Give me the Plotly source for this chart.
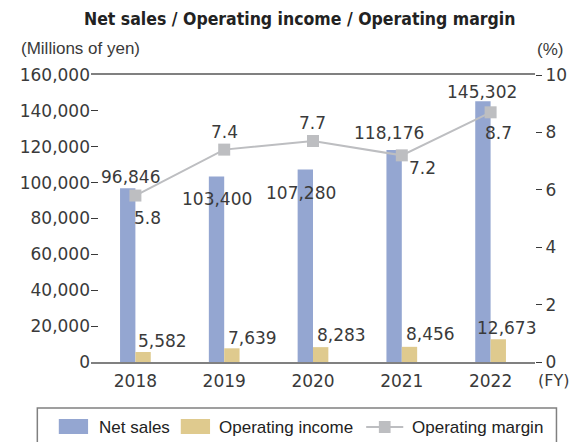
import plotly.graph_objects as go

# ---- data ----
years = ["2018", "2019", "2020", "2021", "2022"]
net_sales = [96846, 103400, 107280, 118176, 145302]
operating_income = [5582, 7639, 8283, 8456, 12673]
operating_margin = [5.8, 7.4, 7.7, 7.2, 8.7]
left_ticks = [0, 20000, 40000, 60000, 80000, 100000, 120000, 140000, 160000]
right_ticks = [0, 2, 4, 6, 8, 10]

# ---- layout geometry (pixels) ----
W, H = 579, 442
L, R, T, B = 91, 546, 75, 362

def xp(px):
    return (px - L) / (R - L)

def yp(py):
    return (B - py) / (B - T)

C_NS = "#94A6D1"
C_OI = "#DFCA8E"
C_OM = "#BDBEC1"
AX = "#808080"
TXT = "#3a3a3a"
NUMFONT = "DejaVu Sans"
SANS = "Liberation Sans, Arial, sans-serif"

fig = go.Figure()
fig.add_trace(go.Bar(x=years, y=net_sales, name="Net sales", marker_color=C_NS,
                     marker_line_width=0, offsetgroup="a"))
fig.add_trace(go.Bar(x=years, y=operating_income, name="Operating income", marker_color=C_OI,
                     marker_line_width=0, offsetgroup="b"))
fig.add_trace(go.Scatter(x=years, y=operating_margin, name="Operating margin", yaxis="y2",
                         mode="lines+markers", line=dict(color=C_OM, width=2),
                         marker=dict(symbol="square", size=12, color=C_OM)))

# label offsets (styling)
ns_shift = [(-5, 11), (-7.5, -22), (-12, -23.5), (-12.5, 17), (-8.5, 9)]
oi_shift = [(27.5, 10.5), (28.5, 10), (28, 12), (28.5, 13), (16, 11)]
om_shift = [(12, -22.5), (0, 17.5), (-1, 18), (20.5, -12.5), (7.5, -21)]

ann = []
lab_font = dict(family=NUMFONT, size=17, color=TXT)
for i, yr in enumerate(years):
    ann.append(dict(x=i, y=net_sales[i], xref="x", yref="y", text=f"{net_sales[i]:,}",
                    showarrow=False, xshift=ns_shift[i][0], yshift=ns_shift[i][1],
                    font=lab_font, xanchor="center", yanchor="middle"))
    ann.append(dict(x=i, y=operating_income[i], xref="x", yref="y", text=f"{operating_income[i]:,}",
                    showarrow=False, xshift=oi_shift[i][0], yshift=oi_shift[i][1],
                    font=lab_font, xanchor="center", yanchor="middle"))
    ann.append(dict(x=i, y=operating_margin[i], xref="x", yref="y2", text=f"{operating_margin[i]:.1f}",
                    showarrow=False, xshift=om_shift[i][0], yshift=om_shift[i][1],
                    font=lab_font, xanchor="center", yanchor="middle"))

# titles / units
ann.append(dict(x=xp(305), y=yp(19), xref="paper", yref="paper",
                text="<b>Net sales / Operating income / Operating margin</b>", showarrow=False,
                font=dict(family="DejaVu Sans Condensed, Liberation Sans Narrow, sans-serif", size=17.5,
                          color="#222222"),
                xanchor="center", yanchor="middle"))
ann.append(dict(x=xp(17), y=yp(48), xref="paper", yref="paper", text="(Millions of yen)",
                showarrow=False, font=dict(family=SANS, size=17, color=TXT),
                xanchor="left", yanchor="middle"))
ann.append(dict(x=xp(577), y=yp(49), xref="paper", yref="paper", text="(%)",
                showarrow=False, font=dict(family=SANS, size=17, color=TXT),
                xanchor="right", yanchor="middle"))
ann.append(dict(x=xp(547), y=yp(380), xref="paper", yref="paper", text="(FY)",
                showarrow=False, font=dict(family=NUMFONT, size=16, color=TXT),
                xanchor="left", yanchor="middle"))

# manual legend
leg_font = dict(family=SANS, size=17, color="#222222")
shapes = [
    dict(type="rect", xref="paper", yref="paper", x0=xp(36), x1=xp(568), y0=yp(408), y1=yp(470),
         line=dict(color=AX, width=1.5), fillcolor="rgba(0,0,0,0)"),
    dict(type="rect", xref="paper", yref="paper", x0=xp(58), x1=xp(88), y0=yp(419), y1=yp(434),
         line=dict(width=0), fillcolor=C_NS),
    dict(type="rect", xref="paper", yref="paper", x0=xp(183), x1=xp(213), y0=yp(419), y1=yp(434),
         line=dict(width=0), fillcolor=C_OI),
    dict(type="line", xref="paper", yref="paper", x0=xp(373), x1=xp(411), y0=yp(427), y1=yp(427),
         line=dict(color=C_OM, width=2)),
    dict(type="rect", xref="paper", yref="paper", x0=xp(386), x1=xp(398), y0=yp(421), y1=yp(433),
         line=dict(width=0), fillcolor=C_OM),
]
for xx, t in [(97, "Net sales"), (220, "Operating income"), (418, "Operating margin")]:
    ann.append(dict(x=xp(xx), y=yp(427), xref="paper", yref="paper", text=t, showarrow=False,
                    font=leg_font, xanchor="left", yanchor="middle"))

fig.update_layout(
    width=W, height=H,
    margin=dict(l=L, r=W - R, t=T, b=H - B, pad=0),
    paper_bgcolor="white", plot_bgcolor="white",
    showlegend=False,
    barmode="group", bargap=0.654, bargroupgap=0,
    xaxis=dict(type="category", range=[-0.5, 4.5], showline=True, mirror=True,
               linecolor=AX, linewidth=1.5, ticks="", showgrid=False, zeroline=False,
               ticklabelstandoff=3,
               tickfont=dict(family=NUMFONT, size=17, color=TXT), fixedrange=True),
    yaxis=dict(range=[0, 160000], tickvals=left_ticks, tickformat=",", showgrid=False,
               zeroline=False, showline=False, ticks="inside", ticklen=7, tickwidth=1.2,
               tickcolor=TXT, tickfont=dict(family=NUMFONT, size=17, color=TXT)),
    yaxis2=dict(range=[0, 10], tickvals=right_ticks, overlaying="y", side="right",
                showgrid=False, zeroline=False, showline=False, ticks="outside", ticklen=6,
                tickwidth=1.2, tickcolor=TXT, tickfont=dict(family=NUMFONT, size=17, color=TXT)),
    annotations=ann, shapes=shapes,
)

fig.write_html("out.html", config={"displayModeBar": False},
               post_script="document.body.style.margin='0';")
